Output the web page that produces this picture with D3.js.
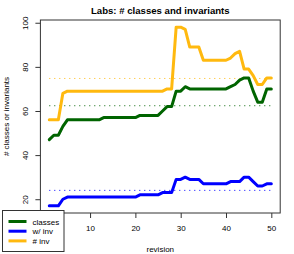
<!DOCTYPE html>
<html>
<head>
<meta charset="utf-8">
<script src="https://cdn.jsdelivr.net/npm/d3@7"></script>
<style>
  html, body { margin: 0; padding: 0; background: #fff; }
  svg { display: block; font-family: "Liberation Sans", Arial, sans-serif; }
</style>
</head>
<body>
<div id="chart"></div>
<script>
"use strict";

// values, one per revision (1..50)
var classes = [47, 49, 49, 53, 56, 56, 56, 56, 56, 56,
               56, 56, 57, 57, 57, 57, 57, 57, 57, 57,
               58, 58, 58, 58, 58, 60, 62, 62, 69, 69,
               71, 70, 70, 70, 70, 70, 70, 70, 70, 70,
               71, 72, 74, 75, 75, 69, 64, 64, 70, 70];
var withInv = [17, 17, 17, 20, 21, 21, 21, 21, 21, 21,
               21, 21, 21, 21, 21, 21, 21, 21, 21, 21,
               22, 22, 22, 22, 22, 23, 23, 23, 29, 29,
               30, 29, 29, 29, 27, 27, 27, 27, 27, 27,
               28, 28, 28, 30, 30, 28, 26, 26, 27, 27];
var numInv  = [56, 56, 56, 68, 69, 69, 69, 69, 69, 69,
               69, 69, 69, 69, 69, 69, 69, 69, 69, 69,
               69, 69, 69, 69, 69, 69, 70, 70, 98, 98,
               97, 89, 89, 89, 83, 83, 83, 83, 83, 83,
               84, 86, 87, 79, 79, 76, 72, 72, 75, 75];
var xTicks = [10, 20, 30, 40, 50];
var yTicks = [20, 40, 60, 80, 100];

var series = [
    { name: "classes", values: classes, color: "#006400" },
    { name: "w/ inv",  values: withInv, color: "#0000ff" },
    { name: "# inv",   values: numInv,  color: "#ffb90f" }
];

var width = 294, height = 254;
var box = { left: 40.4, right: 280.2, top: 20, bottom: 213 };

var svg = d3.select("#chart").append("svg")
    .attr("width", width)
    .attr("height", height);

// R style 4% padding on both axes
var n = classes.length;
var xPad = (n - 1) * 0.04;
var x = d3.scaleLinear()
    .domain([1 - xPad, n + xPad])
    .range([box.left, box.right]);

var allVals = classes.concat(withInv, numInv);
var yMin = d3.min(allVals), yMax = d3.max(allVals);
var yPad = (yMax - yMin) * 0.04;
var y = d3.scaleLinear()
    .domain([yMin - yPad, yMax + yPad])
    .range([box.bottom, box.top]);

// title
svg.append("text")
    .attr("x", (box.left + box.right) / 2)
    .attr("y", 13.5)
    .attr("text-anchor", "middle")
    .attr("font-size", "9.6px")
    .attr("font-weight", "bold")
    .text("Labs: # classes and invariants");

// mean lines (dotted)
series.forEach(function (s) {
    var m = d3.mean(s.values);
    svg.append("line")
        .attr("x1", x(1)).attr("x2", x(n))
        .attr("y1", y(m)).attr("y2", y(m))
        .attr("stroke", s.color)
        .attr("stroke-width", 1)
        .attr("stroke-dasharray", "1,4");
});

// data lines
var line = d3.line()
    .x(function (d, i) { return x(i + 1); })
    .y(function (d) { return y(d); });

series.forEach(function (s) {
    svg.append("path")
        .datum(s.values)
        .attr("fill", "none")
        .attr("stroke", s.color)
        .attr("stroke-width", 3)
        .attr("stroke-linejoin", "round")
        .attr("stroke-linecap", "round")
        .attr("d", line);
});

// frame
svg.append("rect")
    .attr("x", box.left).attr("y", box.top)
    .attr("width", box.right - box.left)
    .attr("height", box.bottom - box.top)
    .attr("fill", "none")
    .attr("stroke", "#333")
    .attr("stroke-width", 1);

// x axis
var xAxis = svg.append("g")
    .attr("transform", "translate(0," + box.bottom + ")")
    .call(d3.axisBottom(x).tickValues(xTicks).tickSize(5).tickPadding(7));
xAxis.select(".domain").remove();
xAxis.selectAll("line").attr("stroke", "#333");
xAxis.selectAll("text").attr("font-size", "8px").attr("fill", "#000")
    .style("font-family", "Liberation Sans, Arial, sans-serif");

// y axis
var yAxis = svg.append("g")
    .attr("transform", "translate(" + box.left + ",0)")
    .call(d3.axisLeft(y).tickValues(yTicks).tickSize(5));
yAxis.select(".domain").remove();
yAxis.selectAll("line").attr("stroke", "#333");
yAxis.selectAll("text")
    .attr("font-size", "8px").attr("fill", "#000")
    .style("font-family", "Liberation Sans, Arial, sans-serif")
    .attr("text-anchor", "middle")
    .attr("dy", null)
    .attr("x", null)
    .attr("transform", "translate(-12,0) rotate(-90)")
    .attr("y", 0);

// axis titles
svg.append("text")
    .attr("x", (box.left + box.right) / 2)
    .attr("y", 251.5)
    .attr("text-anchor", "middle")
    .attr("font-size", "8px")
    .text("revision");

svg.append("text")
    .attr("transform", "translate(8.5," + ((box.top + box.bottom) / 2) + ") rotate(-90)")
    .attr("text-anchor", "middle")
    .attr("font-size", "8px")
    .text("# classes or invariants");

// legend
var legend = svg.append("g").attr("transform", "translate(2.5,210.5)");
legend.append("rect")
    .attr("width", 61.5).attr("height", 41)
    .attr("fill", "#fff")
    .attr("stroke", "#333")
    .attr("stroke-width", 1);
series.forEach(function (s, i) {
    var yy = 11 + i * 9.7;
    legend.append("line")
        .attr("x1", 6).attr("x2", 24)
        .attr("y1", yy).attr("y2", yy)
        .attr("stroke", s.color)
        .attr("stroke-width", 3);
    legend.append("text")
        .attr("x", 30).attr("y", yy + 3)
        .attr("font-size", "8px")
        .text(s.name);
});
</script>
</body>
</html>
